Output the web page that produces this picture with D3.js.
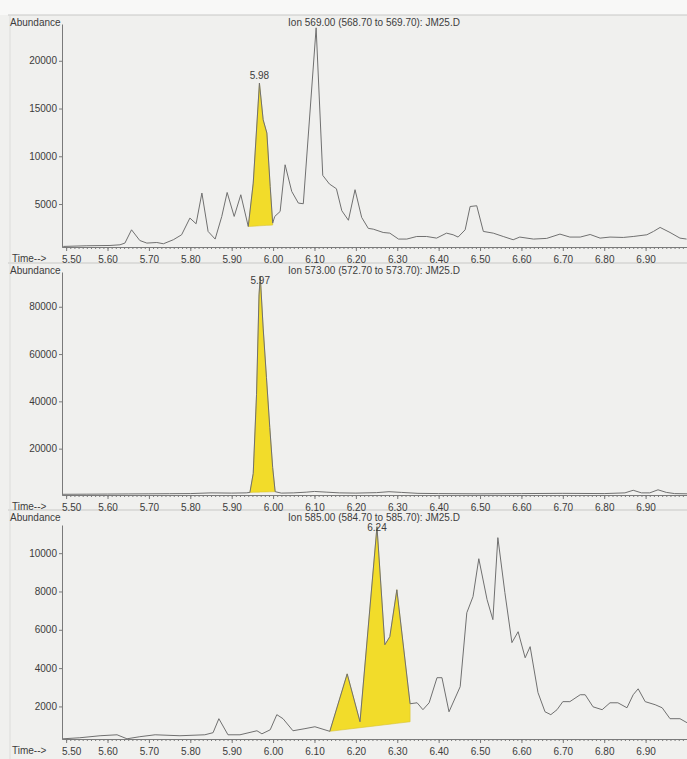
<!DOCTYPE html>
<html>
<head>
<meta charset="utf-8">
<script src="https://cdn.jsdelivr.net/npm/d3@7"></script>
<style>
  body { margin: 0; background: #f0f0ee; }
  svg text { font-family: "Liberation Sans", Arial, sans-serif; fill: #3c3c3c; }
</style>
</head>
<body>
<div class="container"></div>
<script>
// ion traces, [time (min), abundance]
var ion569 = [[5.493,560],[5.550,630],[5.606,660],[5.630,730],[5.642,910],[5.658,2300],[5.678,1180],[5.695,910],
  [5.719,970],[5.735,840],[5.759,1260],[5.779,1780],[5.799,3530],[5.814,2930],[5.828,6150],[5.843,2130],[5.860,1330],
  [5.876,3700],[5.889,6210],[5.906,3700],[5.922,5970],[5.940,2650],[5.952,7190],[5.967,17660],[5.976,13820],
  [5.985,12430],[5.993,6840],[5.999,3000],[6.004,3700],[6.017,4220],[6.029,9110],[6.045,6320],[6.061,5100],
  [6.073,5030],[6.104,23450],[6.120,8000],[6.136,7100],[6.153,6600],[6.166,4300],[6.182,3300],[6.198,6500],
  [6.214,3600],[6.230,2450],[6.242,2370],[6.266,2020],[6.282,1950],[6.303,1330],[6.323,1330],[6.347,1600],
  [6.371,1600],[6.395,1430],[6.419,1950],[6.435,1780],[6.447,1540],[6.464,2300],[6.476,4740],[6.492,4820],
  [6.508,2130],[6.532,1950],[6.556,1600],[6.580,1260],[6.596,1540],[6.629,1330],[6.661,1400],[6.693,1850],
  [6.717,1540],[6.742,1540],[6.766,1810],[6.790,1430],[6.814,1540],[6.846,1500],[6.870,1600],[6.903,1780],
  [6.919,2130],[6.935,2550],[6.959,2020],[6.983,1430],[6.999,1330]];

var ion573 = [[5.492,700],[5.55,750],[5.60,800],[5.65,850],[5.70,900],[5.75,950],[5.80,1000],[5.85,1300],
  [5.90,1200],[5.935,1300],[5.944,1500],[5.952,9500],[5.960,43000],[5.966,85000],[5.969,93000],[5.976,71000],
  [5.984,50000],[5.992,29000],[5.999,12000],[6.005,1800],[6.02,1200],[6.05,1300],[6.08,1600],[6.10,1900],
  [6.13,1600],[6.16,1300],[6.20,1200],[6.25,1400],[6.28,1800],[6.31,1500],[6.35,1100],[6.40,1000],[6.50,900],
  [6.60,1000],[6.70,1100],[6.80,1000],[6.85,1300],[6.87,2400],[6.89,1300],[6.91,1300],[6.93,2600],[6.95,1500],
  [6.97,1000],[7.00,900]];

var ion585 = [[5.492,310],[5.533,365],[5.582,470],[5.623,520],[5.647,310],[5.678,420],[5.715,520],[5.775,470],
  [5.835,520],[5.855,630],[5.869,1360],[5.891,520],[5.920,520],[5.961,730],[5.973,570],[5.993,780],[6.009,1570],
  [6.024,1360],[6.048,730],[6.077,840],[6.101,940],[6.137,700],[6.179,3700],[6.210,1200],[6.251,11380],
  [6.270,5220],[6.282,5640],[6.299,8090],[6.331,2140],[6.348,2190],[6.362,1830],[6.377,2190],[6.396,3500],
  [6.408,3500],[6.425,1720],[6.452,3030],[6.468,6890],[6.483,7730],[6.497,9710],[6.517,7570],[6.531,6530],
  [6.543,10810],[6.560,7940],[6.577,5330],[6.592,5900],[6.609,4540],[6.621,5120],[6.640,2720],[6.657,1720],
  [6.671,1570],[6.686,1830],[6.700,2250],[6.717,2250],[6.742,2610],[6.754,2610],[6.773,1980],[6.795,1830],
  [6.814,2190],[6.833,2190],[6.855,1930],[6.870,2610],[6.882,2920],[6.899,2250],[6.923,2090],[6.940,1930],
  [6.959,1360],[6.983,1360],[7.000,1150]];

// integrated peak: [start time, end time, baseline at start, baseline at end]
var ion569Peak = [5.940, 5.999, 2650, 2800];
var ion573Peak = [5.944, 6.005, 1500, 1800];
var ion585Peak = [6.137, 6.331, 700, 1200];

// retention time labels: [time, abundance, text]
var ion569Rt = [5.967, 17660, "5.98"];
var ion573Rt = [5.969, 93000, "5.97"];
var ion585Rt = [6.251, 11380, "6.24"];

var ion569Title = "Ion 569.00 (568.70 to 569.70): JM25.D";
var ion573Title = "Ion 573.00 (572.70 to 573.70): JM25.D";
var ion585Title = "Ion 585.00 (584.70 to 585.70): JM25.D";

// abundance axis ranges and ticks
var ion569Range = [500, 23850];
var ion573Range = [400, 94700];
var ion585Range = [300, 11470];
var ion569Ticks = [5000, 10000, 15000, 20000];
var ion573Ticks = [20000, 40000, 60000, 80000];
var ion585Ticks = [2000, 4000, 6000, 8000, 10000];

var timeRange = [5.49, 7.00];
var timeTicks = d3.range(550, 700, 10).map(d => d / 100);
var timeMinor = d3.range(550, 700).map(d => d / 100);

var svgWidth = 687;
var svgHeight = 759;
var axisLeft = 62;

var svg = d3.select(".container")
  .append("svg")
  .attr("width", svgWidth)
  .attr("height", svgHeight);

// paper frame bits from the scan
svg.append("rect").attr("x", 0).attr("y", 0).attr("width", svgWidth).attr("height", 15).attr("fill", "#f8f8f7");
[15, 263, 510].forEach(function(y) {
  svg.append("line").attr("x1", 8).attr("x2", svgWidth).attr("y1", y).attr("y2", y)
    .attr("stroke", "#c8c8c6").attr("stroke-width", 1);
});
svg.append("line").attr("x1", 10).attr("x2", 10).attr("y1", 15).attr("y2", svgHeight)
  .attr("stroke", "#dcdcda").attr("stroke-width", 1);

var xScale = d3.scaleLinear().domain(timeRange).range([axisLeft, svgWidth]);

var panels = [
  { data: ion569, peak: ion569Peak, rt: ion569Rt, title: ion569Title, range: ion569Range, ticks: ion569Ticks,
    labelY: 26, top: 24, bottom: 247, rtDy: -4 },
  { data: ion573, peak: ion573Peak, rt: ion573Rt, title: ion573Title, range: ion573Range, ticks: ion573Ticks,
    labelY: 274, top: 272, bottom: 495, rtDy: 8 },
  { data: ion585, peak: ion585Peak, rt: ion585Rt, title: ion585Title, range: ion585Range, ticks: ion585Ticks,
    labelY: 521, top: 525, bottom: 739, rtDy: 4 }
];

panels.forEach(function(p) {
  var g = svg.append("g");
  var yScale = d3.scaleLinear().domain(p.range).range([p.bottom, p.top]);

  // yellow integrated area
  var base = d3.scaleLinear().domain([p.peak[0], p.peak[1]]).range([p.peak[2], p.peak[3]]);
  var inPeak = p.data.filter(d => d[0] >= p.peak[0] && d[0] <= p.peak[1]);
  var area = d3.area()
    .x(d => xScale(d[0]))
    .y0(d => yScale(base(d[0])))
    .y1(d => yScale(d[1]));
  g.append("path")
    .datum(inPeak)
    .attr("d", area)
    .attr("fill", "#f2dc2a")
    .attr("stroke", "#d8c230")
    .attr("stroke-width", 0.6);

  // trace
  var line = d3.line().x(d => xScale(d[0])).y(d => yScale(d[1]));
  g.append("path")
    .datum(p.data)
    .attr("d", line)
    .attr("fill", "none")
    .attr("stroke", "#707070")
    .attr("stroke-width", 1);

  // axes
  var leftAxis = d3.axisLeft(yScale).tickValues(p.ticks).tickSize(3).tickSizeOuter(0).tickPadding(2)
    .tickFormat(d3.format("d"));
  var yAxis = g.append("g").attr("transform", `translate(${axisLeft}, 0)`).call(leftAxis);
  yAxis.selectAll("text").style("font-size", "10px");

  var minorAxis = d3.axisBottom(xScale).tickValues(timeMinor).tickSize(2).tickFormat("").tickSizeOuter(0);
  g.append("g").attr("transform", `translate(0, ${p.bottom})`).call(minorAxis);
  var bottomAxis = d3.axisBottom(xScale).tickValues(timeTicks).tickSize(4).tickSizeOuter(0)
    .tickPadding(5).tickFormat(d3.format(".2f"));
  var xAxis = g.append("g").attr("transform", `translate(0, ${p.bottom})`).call(bottomAxis);
  xAxis.selectAll("text").style("font-size", "10px");
  // first label sits just right of "Time-->"
  xAxis.selectAll(".tick text").filter(d => d === timeTicks[0]).attr("dx", 5);

  g.selectAll(".domain, .tick line").attr("stroke", "#7a7a7a");

  g.append("text")
    .attr("x", 12)
    .attr("y", p.bottom + 15)
    .style("font-size", "10px")
    .text("Time-->");

  g.append("text")
    .attr("x", 10)
    .attr("y", p.labelY)
    .style("font-size", "10px")
    .text("Abundance");

  g.append("text")
    .attr("x", 374)
    .attr("y", p.labelY)
    .attr("text-anchor", "middle")
    .style("font-size", "10px")
    .text(p.title);

  g.append("text")
    .attr("x", xScale(p.rt[0]))
    .attr("y", yScale(p.rt[1]) + p.rtDy)
    .attr("text-anchor", "middle")
    .style("font-size", "10px")
    .text(p.rt[2]);
});
</script>
</body>
</html>
